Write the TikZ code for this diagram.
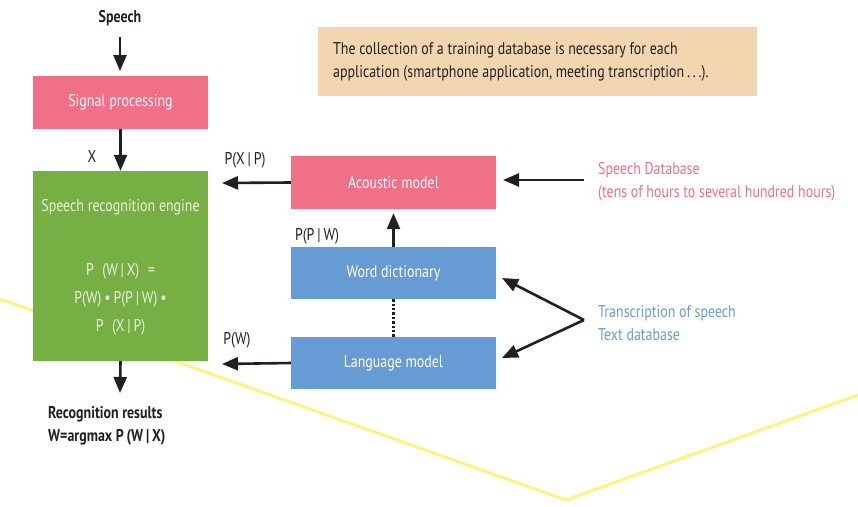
\documentclass[tikz,border=0pt]{standalone}
\usepackage{fontspec}
\setmainfont{PT Sans}[FakeStretch=0.82]
\usetikzlibrary{arrows.meta}
\definecolor{pinkbox}{RGB}{240,112,135}
\definecolor{greenbox}{RGB}{118,175,67}
\definecolor{bluebox}{RGB}{103,155,211}
\definecolor{notebox}{RGB}{242,214,176}
\definecolor{yellowline}{RGB}{255,243,128}
\definecolor{pinktext}{RGB}{238,112,136}
\definecolor{bluetext}{RGB}{105,155,212}
\definecolor{darktext}{RGB}{35,31,32}
\definecolor{greentext}{RGB}{232,242,220}
\tikzset{
  boxstyle/.style={rectangle, inner sep=0pt, text=white, font=\fontsize{17}{19}\selectfont},
  arr/.style={line width=2.6pt, draw=darktext, -{Triangle[length=16pt,width=13pt]}},
  lbl/.style={text=darktext, font=\fontsize{17}{19}\selectfont, inner sep=0pt},
  bold/.style={text=darktext, font=\fontsize{17}{19}\selectfont\bfseries, inner sep=0pt},
  gtext/.style={text=greentext, font=\fontsize{17}{19}\selectfont, inner sep=0pt}
}
\begin{document}
\begin{tikzpicture}[x=1pt,y=-1pt]
\useasboundingbox (0,0) rectangle (858,506);
% yellow zigzag
\draw[yellowline, line width=3pt] (0,299) -- (566,500) -- (858,395);
% boxes
\node[boxstyle, fill=pinkbox, minimum width=175pt, minimum height=53pt] (sp) at (120.5,102.5) {Signal processing};
\node[boxstyle, fill=greenbox, minimum width=175pt, minimum height=190pt] (eng) at (120.5,266) {};
\node[boxstyle, fill=pinkbox, minimum width=205pt, minimum height=53pt] (am) at (393.5,182.5) {Acoustic model};
\node[boxstyle, fill=bluebox, minimum width=205pt, minimum height=52pt] (wd) at (393.5,273) {Word dictionary};
\node[boxstyle, fill=bluebox, minimum width=205pt, minimum height=52pt] (lm) at (393.5,363) {Language model};
\node[rectangle, fill=notebox, minimum width=439pt, minimum height=69pt, inner sep=0pt] (note) at (537.5,61.5) {};
\node[lbl, anchor=west, align=left, font=\fontsize{17}{23.5}\selectfont] (notetext) at (333,62) {The collection of a training database is necessary for each\\application (smartphone application, meeting transcription\,.\,.\,.).};
% engine texts
\node[gtext] (engtitle) at (120.5,207) {Speech recognition engine};
\node[gtext] (f1) at (120.5,271) {P\enspace(W\,|\,X)\enspace=};
\node[gtext] (f2) at (120.5,299) {P(W)\,•\,P(P\,|\,W)\,•};
\node[gtext] (f3) at (120.5,327) {P\enspace(X\,|\,P)};
% labels
\node[bold] (speech) at (120,18) {Speech};
\node[lbl] (xlbl) at (92,157) {X};
\node[lbl] (pxp) at (245,160) {P(X\,|\,P)};
\node[lbl] (ppw) at (317,236) {P(P\,|\,W)};
\node[lbl] (pw) at (237,340) {P(W)};
\node[bold, anchor=west, align=left, font=\fontsize{17}{23.5}\selectfont\bfseries] (res) at (48,426) {Recognition results\\W=argmax P\,(W\,|\,X)};
\node[anchor=west, align=left, inner sep=0pt, text=pinktext, font=\fontsize{17}{23.5}\selectfont] (sdb) at (598,182) {Speech Database\\(tens of hours to several hundred hours)};
\node[anchor=west, align=left, inner sep=0pt, text=bluetext, font=\fontsize{17}{23.5}\selectfont] (tdb) at (598,323) {Transcription of speech\\Text database};
% coordinates
\coordinate (speechbot) at (120,37);
\coordinate (sptop) at (120,71);
\coordinate (engout) at (120,393);
\coordinate (amleft) at (222,183);
\coordinate (lmleft) at (222,364);
\coordinate (sdbstart) at (584,180);
\coordinate (tstart) at (584,320);
\coordinate (wdtip) at (502,278);
\coordinate (lmtip) at (502,358);
\coordinate (amtip) at (503,180);
% arrows
\draw[arr] (speechbot) -- (sptop);
\draw[arr] (sp.south) -- (eng.north);
\draw[arr] (eng.south) -- (engout);
\draw[arr] (am.west) -- (amleft);
\draw[arr] (lm.west) -- (lmleft);
\draw[arr] (wd.north) -- ([yshift=-4pt]am.south);
\draw[line width=2.2pt, draw=darktext, dash pattern=on 2.4pt off 2pt] (wd.south) -- (lm.north);
\draw[arr] (sdbstart) -- (amtip);
\draw[arr] (tstart) -- (wdtip);
\draw[arr] (tstart) -- (lmtip);
\end{tikzpicture}
\end{document}
